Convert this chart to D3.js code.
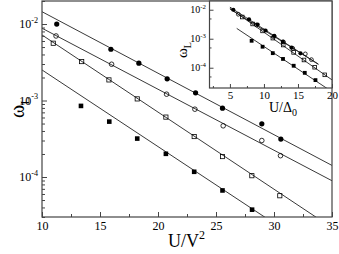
<!DOCTYPE html>
<html>
<head>
<meta charset="utf-8">
<script src="https://cdn.jsdelivr.net/npm/d3@7"></script>
<style>
  body { margin: 0; background: #fff; }
  svg { display: block; font-family: "Liberation Serif", "DejaVu Serif", serif; }
</style>
</head>
<body>
<script>
// main panel: omega_L vs U/V^2, four series with fitted lines
const uA = [11.27, 15.94, 18.35, 20.79, 23.24, 25.56, 28.95, 30.59];
const wA = [1.0e-2, 4.68e-3, 3.08e-3, 1.92e-3, 1.26e-3, 7.94e-4, 4.95e-4, 3.13e-4];
const uB = [11.21, 16.0, 20.74, 23.18, 25.62, 28.95, 30.56];
const wB = [6.98e-3, 2.98e-3, 1.21e-3, 7.7e-4, 4.67e-4, 3.0e-4, 1.9e-4];
const uC = [10.97, 13.42, 15.77, 18.21, 20.68, 23.12, 25.56, 28.09, 30.5];
const wC = [5.61e-3, 3.23e-3, 1.86e-3, 1.05e-3, 6.07e-4, 3.38e-4, 1.85e-4, 1.04e-4, 5.69e-5];
const uD = [13.36, 15.8, 18.21, 20.68, 23.12, 25.56, 28.11];
const wD = [8.5e-4, 5.3e-4, 3.18e-4, 2.01e-4, 1.17e-4, 6.67e-5, 3.74e-5];

// fitted lines, endpoints [u0,u1] -> [w0,w1]
const fitU = [10, 35];
const fitA = [1.449e-2, 1.416e-4];
const fitB = [8.81e-3, 8.93e-5];
const fitC = [7.19e-3, 2.17e-5];
const fitD = [2.51e-3, 7.85e-6];

// inset: omega_L vs U/Delta_0
const iA = [5.5, 7.8, 9.07, 10.24, 11.5, 12.77, 14.05, 15.37];
const iB = [6.23, 8.89, 11.52, 12.88, 14.23, 16.08, 16.98];
const iC = [6.81, 8.34, 9.80, 11.31, 12.84, 14.36, 15.88, 17.45, 18.94];
const iD = [8.19, 9.8, 11.3, 12.8, 14.37, 16.0, 17.57];
const ifitA = {x: [5, 18], w: [1.23e-2, 1.30e-4]};
const ifitB = {x: [5, 18], w: [1.06e-2, 1.34e-4]};
const ifitC = {x: [5, 20], w: [1.11e-2, 3.81e-5]};
const ifitD = {x: [6, 20], w: [2.27e-3, 1.49e-5]};

const xTicks = [10, 15, 20, 25, 30, 35];
const xMinor = [12.5, 17.5, 22.5, 27.5, 32.5];
const yDecades = [1e-4, 1e-3, 1e-2];
const ixTicks = [5, 10, 15, 20];
const ixMinor = [2.5, 7.5, 12.5, 17.5];
const iyDecades = [1e-4, 1e-3, 1e-2];
const iyMinor = [5e-5, 5e-4, 5e-3];

const width = 339, height = 254;
const axisColor = "#444";

const svg = d3.select("body").append("svg")
    .attr("width", width)
    .attr("height", height);

const x = d3.scaleLinear().domain([10, 35]).range([42, 332]);
const y = d3.scaleLog().domain([3e-5, 2e-2]).range([217, 1]);

function minorLog(lo, hi) {
  const out = [];
  for (let e = Math.floor(Math.log10(lo)); e <= Math.ceil(Math.log10(hi)); e++)
    for (let m = 2; m <= 9; m++) {
      const v = m * Math.pow(10, e);
      if (v >= lo && v <= hi) out.push(v);
    }
  return out;
}

function series(g, xs, ws, sx, sy, kind, s) {
  const pts = xs.map((d, i) => [sx(d), sy(ws[i])]);
  const filled = kind === "fc" || kind === "fs";
  if (kind === "fc" || kind === "oc") {
    g.append("g").selectAll("circle").data(pts).join("circle")
        .attr("cx", d => d[0]).attr("cy", d => d[1]).attr("r", s)
        .attr("fill", filled ? "#000" : "none")
        .attr("stroke", "#000").attr("stroke-width", filled ? 0 : 0.8);
  } else {
    g.append("g").selectAll("rect").data(pts).join("rect")
        .attr("x", d => d[0] - s).attr("y", d => d[1] - s)
        .attr("width", 2 * s).attr("height", 2 * s)
        .attr("fill", filled ? "#000" : "none")
        .attr("stroke", "#000").attr("stroke-width", filled ? 0 : 0.8);
  }
}

function fitLine(g, xs, ws, sx, sy) {
  g.append("path")
      .datum(xs.map((d, i) => [d, ws[i]]))
      .attr("fill", "none")
      .attr("stroke", "#222")
      .attr("stroke-width", 0.9)
      .attr("d", d3.line().x(d => sx(d[0])).y(d => sy(d[1])));
}

function powLabel(g, v, px, py, size) {
  const t = g.append("text")
      .attr("x", px).attr("y", py)
      .attr("text-anchor", "end")
      .attr("font-size", size);
  t.append("tspan").text("10");
  t.append("tspan").attr("dy", -size * 0.42).attr("font-size", size * 0.68)
      .text(String(Math.round(Math.log10(v))));
}

// ---- main panel ----
svg.append("clipPath").attr("id", "clipMain")
  .append("rect").attr("x", 42).attr("y", 1).attr("width", 290).attr("height", 216);

const lines = svg.append("g").attr("clip-path", "url(#clipMain)");
fitLine(lines, fitU, fitA, x, y);
fitLine(lines, fitU, fitB, x, y);
fitLine(lines, fitU, fitC, x, y);
fitLine(lines, fitU, fitD, x, y);

const marks = svg.append("g");
series(marks, uA, wA, x, y, "fc", 2.6);
series(marks, uB, wB, x, y, "oc", 2.3);
series(marks, uC, wC, x, y, "os", 2.1);
series(marks, uD, wD, x, y, "fs", 2.3);

const gx = svg.append("g").attr("transform", "translate(0,217)");
gx.call(d3.axisBottom(x).tickValues(xTicks).tickSizeInner(-5).tickSizeOuter(0).tickPadding(4));
gx.append("g").call(d3.axisBottom(x).tickValues(xMinor).tickSizeInner(-3).tickSizeOuter(0).tickFormat(""));
gx.selectAll(".domain").remove();
gx.selectAll("line").attr("stroke", axisColor);
gx.selectAll("text").attr("font-family", "Liberation Serif").attr("font-size", 12).attr("fill", "#000");

const gy = svg.append("g").attr("transform", "translate(42,0)");
gy.call(d3.axisLeft(y).tickValues(yDecades).tickSizeInner(-5).tickSizeOuter(0).tickFormat(""));
gy.append("g").call(d3.axisLeft(y).tickValues(minorLog(3e-5, 2e-2)).tickSizeInner(-3).tickSizeOuter(0).tickFormat(""));
gy.selectAll(".domain").remove();
gy.selectAll("line").attr("stroke", axisColor);
yDecades.forEach(v => powLabel(svg, v, 38, y(v) + 4, 12));

svg.append("rect")
    .attr("x", 42).attr("y", 1).attr("width", 290).attr("height", 216)
    .attr("fill", "none").attr("stroke", axisColor).attr("stroke-width", 1.2);

const yl = svg.append("text")
    .attr("transform", "translate(24,118) rotate(-90)")
    .attr("font-size", 20);
yl.append("tspan").text("ω");
yl.append("tspan").attr("dy", 5).attr("font-size", 13).text("L");

const xl = svg.append("text")
    .attr("x", 168).attr("y", 247)
    .attr("font-size", 18);
xl.append("tspan").text("U/V");
xl.append("tspan").attr("dy", -8).attr("font-size", 12).text("2");

// ---- inset ----
const ix = d3.scaleLinear().domain([2, 20]).range([209.5, 332]);
const iy = d3.scaleLog().domain([2e-5, 2e-2]).range([88, 1]);

svg.append("rect")
    .attr("x", 209.5).attr("y", 1).attr("width", 122.5).attr("height", 87)
    .attr("fill", "#fff");

svg.append("clipPath").attr("id", "clipInset")
  .append("rect").attr("x", 209.5).attr("y", 1).attr("width", 122.5).attr("height", 87);

const ilines = svg.append("g").attr("clip-path", "url(#clipInset)");
fitLine(ilines, ifitA.x, ifitA.w, ix, iy);
fitLine(ilines, ifitB.x, ifitB.w, ix, iy);
fitLine(ilines, ifitC.x, ifitC.w, ix, iy);
fitLine(ilines, ifitD.x, ifitD.w, ix, iy);

const imarks = svg.append("g");
series(imarks, iA, wA, ix, iy, "fc", 2.1);
series(imarks, iB, wB, ix, iy, "oc", 1.9);
series(imarks, iC, wC, ix, iy, "os", 1.8);
series(imarks, iD, wD, ix, iy, "fs", 1.9);

const igx = svg.append("g").attr("transform", "translate(0,88)");
igx.call(d3.axisBottom(ix).tickValues(ixTicks).tickSizeInner(-4).tickSizeOuter(0).tickPadding(3));
igx.append("g").call(d3.axisBottom(ix).tickValues(ixMinor).tickSizeInner(-2).tickSizeOuter(0).tickFormat(""));
igx.selectAll(".domain").remove();
igx.selectAll("line").attr("stroke", axisColor);
igx.selectAll("text").attr("font-family", "Liberation Serif").attr("font-size", 11).attr("fill", "#000");

const igy = svg.append("g").attr("transform", "translate(209.5,0)");
igy.call(d3.axisLeft(iy).tickValues(iyDecades).tickSizeInner(-4).tickSizeOuter(0).tickFormat(""));
igy.append("g").call(d3.axisLeft(iy).tickValues(iyMinor).tickSizeInner(-2).tickSizeOuter(0).tickFormat(""));
igy.selectAll(".domain").remove();
igy.selectAll("line").attr("stroke", axisColor);
iyDecades.forEach(v => powLabel(svg, v, 206, iy(v) + 3.5, 10));

svg.append("rect")
    .attr("x", 209.5).attr("y", 1).attr("width", 122.5).attr("height", 87)
    .attr("fill", "none").attr("stroke", axisColor).attr("stroke-width", 1.2);

const iyl = svg.append("text")
    .attr("transform", "translate(187,58) rotate(-90)")
    .attr("font-size", 15);
iyl.append("tspan").text("ω");
iyl.append("tspan").attr("dy", 4).attr("font-size", 10).text("L");

const ixl = svg.append("text")
    .attr("x", 283).attr("y", 112)
    .attr("text-anchor", "middle")
    .attr("font-size", 14);
ixl.append("tspan").text("U/Δ");
ixl.append("tspan").attr("dy", 4).attr("font-size", 10).text("0");
</script>
</body>
</html>
